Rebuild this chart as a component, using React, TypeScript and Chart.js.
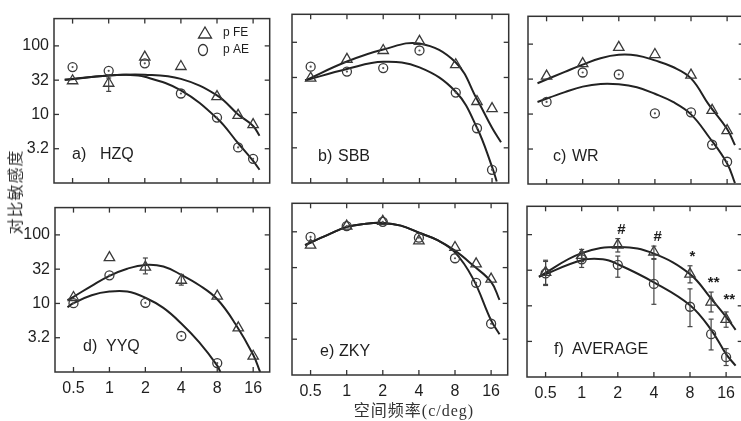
import React, { useEffect, useRef } from "react";
import { Chart, registerables } from "chart.js";
Chart.register(...registerables);

// ---------- data ----------
const X_TICKS = [0.5, 1, 2, 4, 8, 16];
const X_TICK_LABELS = ["0.5", "1", "2", "4", "8", "16"];
const Y_TICKS = [3.162, 10, 31.62, 100];
const Y_TICK_LABELS = ["3.2", "10", "32", "100"];
const FREQS = [0.5, 1, 2, 4, 8, 12, 16];

// a) HZQ
const HZQ_FE = [31, 28.5, 68.6, 50, 18.2, 9.7, 7.1];
const HZQ_AE = [49, 43.3, 55.7, 20.2, 9.0, 3.3, 2.25];
const HZQ_FE_FIT_X = [0.43, 1, 2, 4, 8, 12, 16, 18.1];
const HZQ_FE_FIT = [32, 37, 38, 33, 19, 10, 6.8, 4.9];
const HZQ_AE_FIT_X = [0.43, 1, 1.4, 2, 4, 8, 12, 16, 18.1];
const HZQ_AE_FIT = [32, 37, 37.8, 35.4, 22.5, 8.8, 3.8, 2.1, 1.56];

// b) SBB
const SBB_FE = [30.9, 57.3, 76.5, 103, 48, 14.4, 11.4];
const SBB_AE = [45, 38.4, 43, 76.5, 19.3, 6.0, 1.54];
const SBB_FE_FIT_X = [0.45, 1, 2, 4, 8, 12, 16, 19];
const SBB_FE_FIT = [28.7, 53.3, 79, 96, 51.6, 15.5, 6.1, 3.8];
const SBB_AE_FIT_X = [0.45, 1, 2, 4, 8, 12, 16, 17.5];
const SBB_AE_FIT = [28.7, 41.7, 52.7, 44, 19.8, 6.1, 1.7, 1.05];

// c) WR
const WR_FE = [34.9, 52.6, 89.9, 71, 36, 11.3, 5.8];
const WR_AE = [14.9, 39.3, 36.8, 10.2, 10.6, 3.64, 2.08];
const WR_FE_FIT_X = [0.42, 0.71, 1, 1.41, 2, 2.83, 4, 5.66, 8, 11.3, 16, 18.6];
const WR_FE_FIT = [27.6, 40.1, 50.9, 63, 70.3, 68.7, 58.5, 47.1, 32.4, 13.5, 6.1, 3.6];
const WR_AE_FIT_X = [0.42, 0.71, 1, 1.41, 2, 2.83, 4, 5.66, 8, 11.3, 16, 18.6];
const WR_AE_FIT = [14.9, 20.6, 24.7, 27.0, 26.7, 24.2, 19.5, 14.9, 9.9, 4.7, 1.97, 1.03];

// d) YYQ
const YYQ_FE = [12.2, 46.6, 33.9, 21.8, 12.8, 4.4, 1.7];
const YYQ_AE_X = [0.5, 1, 2, 4, 8];
const YYQ_AE = [10.1, 25.7, 10.2, 3.35, 1.35];
const YYQ_FE_FIT_X = [0.445, 0.5, 0.71, 1, 1.41, 2, 2.83, 4, 5.66, 8, 11.3, 16, 18.3];
const YYQ_FE_FIT = [11.2, 12.5, 18.1, 25.3, 32.1, 36.5, 34.6, 26.1, 18.4, 11.5, 5.1, 1.78, 1.0];
const YYQ_AE_FIT_X = [0.445, 0.5, 0.71, 1, 1.41, 2, 2.83, 4, 5.66, 8, 8.6];
const YYQ_AE_FIT = [8.8, 10.1, 13.2, 14.9, 14.9, 12.1, 8.6, 5.1, 2.7, 1.24, 0.95];

// e) ZKY
const ZKY_FE = [65, 120, 140, 74.7, 60.4, 35.7, 21.8];
const ZKY_AE = [84.7, 120, 138, 82.8, 42.7, 19.4, 5.2];
const ZKY_FE_FIT_X = [0.45, 0.5, 0.71, 1, 1.41, 2, 2.83, 4, 5.66, 8, 11.3, 16, 18.8];
const ZKY_FE_FIT = [65, 70.8, 92, 117, 129, 133, 122, 97, 77, 54.5, 34, 20, 11.2];
const ZKY_AE_FIT_X = [0.45, 0.5, 0.71, 1, 1.41, 2, 2.83, 4, 5.66, 8, 11.3, 16, 18.8];
const ZKY_AE_FIT = [65, 70.8, 92, 117, 129, 133, 122, 97, 77, 51.6, 22.2, 5.8, 3.7];

// f) AVERAGE
const AVG_FE = [29.5, 51.2, 71.3, 57, 27.9, 11.3, 6.45];
const AVG_AE = [28.5, 45.1, 37.7, 20.3, 9.7, 4.0, 1.9];
const AVG_FE_HI = [43.7, 62, 88, 69, 36.5, 15.6, 8.2];
const AVG_FE_LO = [20, 42, 57, 46, 21, 8.2, 5.0];
const AVG_AE_HI = [42, 56, 50, 45, 17.3, 6.5, 2.5];
const AVG_AE_LO = [19.3, 34.6, 25.2, 10.5, 5.1, 2.4, 1.45];
const AVG_FE_FIT_X = [0.44, 1, 2.1, 4, 8, 12, 16, 19.2];
const AVG_FE_FIT = [25.7, 55, 67, 54, 27.9, 12.6, 7.0, 4.6];
const AVG_AE_FIT_X = [0.44, 1, 1.5, 2, 4, 8, 12, 16, 19.2];
const AVG_AE_FIT = [25.5, 43.6, 45, 38.4, 21.4, 10.2, 4.6, 2.1, 1.44];
const NOTE_TEXT = ["#", "#", "*", "**", "**"];
const NOTE_X = [2.14, 4.3, 8.37, 12.6, 17.0];
const NOTE_Y = [117, 92, 48.6, 20.7, 12.0];

// single error bars in a) and d)
const HZQ_FE_ERR_X = [1];
const HZQ_FE_ERR_LO = [21.7];
const HZQ_FE_ERR_HI = [34];
const YYQ_FE_ERR_X = [2, 4];
const YYQ_FE_ERR_LO = [27, 18.5];
const YYQ_FE_ERR_HI = [46, 26.5];

// ---------- layout ----------
const ML = 50, MR = 4, MT = 4, MB = 36;
const TICK = 5;
const INK = "#222";
const FONT = '"Liberation Sans", Arial, sans-serif';

type Err = { x: number[]; lo: number[]; hi: number[] };
type PanelDef = {
  box: [number, number, number, number];
  showX: boolean;
  showY: boolean;
  letter: string;
  name: string;
  letterX: number;
  nameX: number;
  labelY: number;
  feX: number[];
  fe: number[];
  aeX: number[];
  ae: number[];
  feFitX: number[];
  feFit: number[];
  aeFitX: number[];
  aeFit: number[];
  errs: Err[];
  dots: boolean;
  legend?: boolean;
  notes?: boolean;
};

const PANELS: PanelDef[] = [
  {
    box: [54, 8, 219, 175], showX: false, showY: true,
    letter: "a)", name: "HZQ", letterX: 72, nameX: 100, labelY: 155,
    feX: FREQS, fe: HZQ_FE, aeX: FREQS, ae: HZQ_AE,
    feFitX: HZQ_FE_FIT_X, feFit: HZQ_FE_FIT, aeFitX: HZQ_AE_FIT_X, aeFit: HZQ_AE_FIT,
    errs: [{ x: HZQ_FE_ERR_X, lo: HZQ_FE_ERR_LO, hi: HZQ_FE_ERR_HI }],
    dots: true,
    legend: true,
  },
  {
    box: [292, 11, 220, 172], showX: false, showY: false,
    letter: "b)", name: "SBB", letterX: 318, nameX: 338, labelY: 157,
    feX: FREQS, fe: SBB_FE, aeX: FREQS, ae: SBB_AE,
    feFitX: SBB_FE_FIT_X, feFit: SBB_FE_FIT, aeFitX: SBB_AE_FIT_X, aeFit: SBB_AE_FIT,
    errs: [],
    dots: true,
  },
  {
    box: [528, 13, 219, 171], showX: false, showY: false,
    letter: "c)", name: "WR", letterX: 553, nameX: 572, labelY: 157,
    feX: FREQS, fe: WR_FE, aeX: FREQS, ae: WR_AE,
    feFitX: WR_FE_FIT_X, feFit: WR_FE_FIT, aeFitX: WR_AE_FIT_X, aeFit: WR_AE_FIT,
    errs: [],
    dots: true,
  },
  {
    box: [55, 197, 218, 175], showX: true, showY: true,
    letter: "d)", name: "YYQ", letterX: 83, nameX: 106, labelY: 347,
    feX: FREQS, fe: YYQ_FE, aeX: YYQ_AE_X, ae: YYQ_AE,
    feFitX: YYQ_FE_FIT_X, feFit: YYQ_FE_FIT, aeFitX: YYQ_AE_FIT_X, aeFit: YYQ_AE_FIT,
    errs: [{ x: YYQ_FE_ERR_X, lo: YYQ_FE_ERR_LO, hi: YYQ_FE_ERR_HI }],
    dots: true,
  },
  {
    box: [292, 200, 219, 175], showX: true, showY: false,
    letter: "e)", name: "ZKY", letterX: 320, nameX: 339, labelY: 352,
    feX: FREQS, fe: ZKY_FE, aeX: FREQS, ae: ZKY_AE,
    feFitX: ZKY_FE_FIT_X, feFit: ZKY_FE_FIT, aeFitX: ZKY_AE_FIT_X, aeFit: ZKY_AE_FIT,
    errs: [],
    dots: true,
  },
  {
    box: [527, 203, 219, 174], showX: true, showY: false,
    letter: "f)", name: "AVERAGE", letterX: 554, nameX: 572, labelY: 350,
    feX: FREQS, fe: AVG_FE, aeX: FREQS, ae: AVG_AE,
    feFitX: AVG_FE_FIT_X, feFit: AVG_FE_FIT, aeFitX: AVG_AE_FIT_X, aeFit: AVG_AE_FIT,
    errs: [
      { x: FREQS, lo: AVG_FE_LO, hi: AVG_FE_HI },
      { x: FREQS, lo: AVG_AE_LO, hi: AVG_AE_HI },
    ],
    dots: false,
    notes: true,
  },
];

const pts = (xs: number[], ys: number[]) => xs.map((x, i) => ({ x, y: ys[i] }));

function makePlugin(p: PanelDef) {
  const cl = p.box[0] - ML;
  const ct = p.box[1] - MT;
  return {
    id: "frame",
    afterDraw(chart: any) {
      const { ctx, chartArea: ca, scales } = chart;
      const xs = scales.x, ys = scales.y;
      const line = (x1: number, y1: number, x2: number, y2: number) => {
        ctx.beginPath();
        ctx.moveTo(x1, y1);
        ctx.lineTo(x2, y2);
        ctx.stroke();
      };
      ctx.save();
      ctx.strokeStyle = "#333";
      ctx.lineWidth = 1.5;
      ctx.strokeRect(ca.left, ca.top, ca.right - ca.left, ca.bottom - ca.top);
      ctx.lineWidth = 1.3;
      for (const v of X_TICKS) {
        const px = xs.getPixelForValue(v);
        line(px, ca.top, px, ca.top + TICK);
        line(px, ca.bottom, px, ca.bottom - TICK);
      }
      for (const v of Y_TICKS) {
        const py = ys.getPixelForValue(v);
        line(ca.left, py, ca.left + TICK, py);
        line(ca.right, py, ca.right - TICK, py);
      }
      // error bars
      ctx.strokeStyle = "#444";
      ctx.lineWidth = 1.2;
      for (const e of p.errs) {
        e.x.forEach((xv, i) => {
          const px = xs.getPixelForValue(xv);
          const y1 = ys.getPixelForValue(e.lo[i]);
          const y2 = ys.getPixelForValue(e.hi[i]);
          line(px, y1, px, y2);
          line(px - 2.5, y1, px + 2.5, y1);
          line(px - 2.5, y2, px + 2.5, y2);
        });
      }
      // centre dots of the circle markers
      if (p.dots) {
        ctx.fillStyle = "#555";
        p.aeX.forEach((xv, i) => {
          const px = xs.getPixelForValue(xv);
          const py = ys.getPixelForValue(p.ae[i]);
          if (py > ca.bottom) return;
          ctx.beginPath();
          ctx.arc(px, py, 1.1, 0, Math.PI * 2);
          ctx.fill();
        });
      }
      // panel label
      ctx.fillStyle = "#1e1e1e";
      ctx.font = `16px ${FONT}`;
      ctx.textBaseline = "middle";
      ctx.textAlign = "left";
      ctx.fillText(p.letter, p.letterX - cl, p.labelY - ct);
      ctx.fillText(p.name, p.nameX - cl, p.labelY - ct);
      // legend
      if (p.legend) {
        ctx.strokeStyle = "#333";
        ctx.lineWidth = 1.3;
        const tx = 205 - cl, ty = 33 - ct;
        ctx.beginPath();
        ctx.moveTo(tx, ty - 6);
        ctx.lineTo(tx + 6.5, ty + 5);
        ctx.lineTo(tx - 6.5, ty + 5);
        ctx.closePath();
        ctx.stroke();
        ctx.beginPath();
        ctx.ellipse(203 - cl, 50 - ct, 4.5, 5.5, 0, 0, Math.PI * 2);
        ctx.stroke();
        ctx.font = `12px ${FONT}`;
        ctx.fillText("p FE", 223 - cl, 33 - ct);
        ctx.fillText("p AE", 223 - cl, 50 - ct);
      }
      if (p.notes) {
        ctx.font = `bold 15px ${FONT}`;
        ctx.textAlign = "center";
        NOTE_TEXT.forEach((t, i) => {
          ctx.fillText(t, xs.getPixelForValue(NOTE_X[i]), ys.getPixelForValue(NOTE_Y[i]));
        });
      }
      ctx.restore();
    },
  };
}

function PanelChart({ p }: { p: PanelDef }) {
  const ref = useRef<HTMLCanvasElement>(null);
  const [l, t, w, h] = p.box;
  const W = w + ML + MR;
  const H = h + MT + MB;
  useEffect(() => {
    const fit = (data: any) => ({
      type: "scatter",
      data,
      showLine: true,
      tension: 0.4,
      pointRadius: 0,
      borderColor: INK,
      borderWidth: 2,
      order: 2,
    });
    const chart = new Chart(ref.current as HTMLCanvasElement, {
      type: "scatter",
      data: {
        datasets: [
          {
            type: "scatter",
            data: pts(p.feX, p.fe),
            pointStyle: "triangle",
            pointRadius: 6,
            borderColor: "#3a3a3a",
            backgroundColor: "rgba(0,0,0,0)",
            borderWidth: 1.3,
            order: 1,
          },
          {
            type: "scatter",
            data: pts(p.aeX, p.ae),
            pointStyle: "circle",
            pointRadius: 4.5,
            borderColor: "#3a3a3a",
            backgroundColor: "rgba(0,0,0,0)",
            borderWidth: 1.3,
            order: 1,
          },
          fit(pts(p.feFitX, p.feFit)),
          fit(pts(p.aeFitX, p.aeFit)),
        ] as any,
      },
      options: {
        animation: false,
        responsive: false,
        maintainAspectRatio: false,
        devicePixelRatio: 1,
        layout: { padding: { left: 0, top: MT, right: MR, bottom: 0 } },
        plugins: { legend: { display: false }, tooltip: { enabled: false } },
        scales: {
          x: {
            type: "logarithmic",
            min: 0.35,
            max: 22,
            position: "bottom",
            grid: { display: false, drawTicks: false },
            border: { display: false },
            afterBuildTicks: (s: any) => {
              s.ticks = X_TICKS.map((v) => ({ value: v }));
            },
            afterFit: (s: any) => {
              s.height = MB;
            },
            ticks: {
              display: p.showX,
              padding: 7,
              color: "#1e1e1e",
              font: { family: FONT, size: 16 },
              autoSkip: false,
              maxRotation: 0,
              callback: (v: any) => X_TICK_LABELS[X_TICKS.indexOf(Number(v))] ?? "",
            },
          },
          y: {
            type: "logarithmic",
            min: 1,
            max: 250,
            position: "left",
            grid: { display: false, drawTicks: false },
            border: { display: false },
            afterBuildTicks: (s: any) => {
              s.ticks = Y_TICKS.map((v) => ({ value: v }));
            },
            afterFit: (s: any) => {
              s.width = ML;
            },
            ticks: {
              display: p.showY,
              padding: 5,
              color: "#1e1e1e",
              font: { family: FONT, size: 16 },
              autoSkip: false,
              callback: (v: any) => Y_TICK_LABELS[Y_TICKS.indexOf(Number(v))] ?? "",
            },
          },
        },
      } as any,
      plugins: [makePlugin(p)],
    });
    return () => chart.destroy();
  }, []);
  return (
    <canvas
      ref={ref}
      width={W}
      height={H}
      style={{ position: "absolute", left: l - ML, top: t - MT, width: W, height: H }}
    />
  );
}

export default function App() {
  return (
    <div
      style={{
        position: "absolute",
        left: 0,
        top: 0,
        width: 741,
        height: 421,
        overflow: "hidden",
        background: "#fff",
      }}
    >
      {PANELS.map((p, i) => (
        <PanelChart key={i} p={p} />
      ))}
      <div
        style={{
          position: "absolute",
          left: 14,
          top: 192,
          transform: "translate(-50%, -50%) rotate(-90deg)",
          whiteSpace: "nowrap",
          font: '16px "Noto Sans CJK SC", sans-serif',
          letterSpacing: 1,
          color: "#333",
        }}
      >
        对比敏感度
      </div>
      <div
        style={{
          position: "absolute",
          left: 414,
          top: 409,
          transform: "translate(-50%, -50%)",
          whiteSpace: "nowrap",
          font: '16px "Liberation Serif", "Noto Sans CJK SC", serif',
          letterSpacing: 1,
          color: "#333",
        }}
      >
        空间频率(c/deg)
      </div>
    </div>
  );
}
